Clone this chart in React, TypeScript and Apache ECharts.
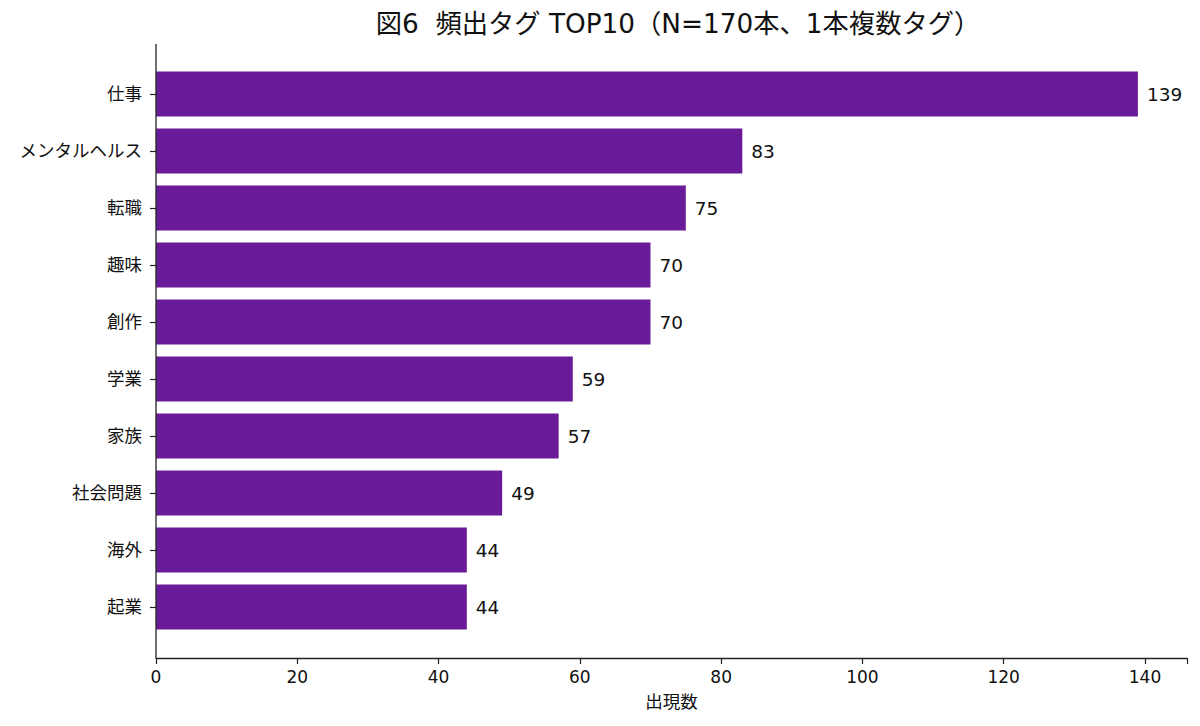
import React, { useEffect, useRef } from "react";
import * as echarts from "echarts";

const categories = ["仕事", "メンタルヘルス", "転職", "趣味", "創作", "学業", "家族", "社会問題", "海外", "起業"];
const counts = [139, 83, 75, 70, 70, 59, 57, 49, 44, 44];
const xTicks = [0, 20, 40, 60, 80, 100, 120, 140];
const titleText = "図6  頻出タグ TOP10（N=170本、1本複数タグ）";
const xName = "出現数";

const FONT = "'DejaVu Sans', 'Noto Sans CJK JP', sans-serif";

export default function App() {
  const ref = useRef<HTMLDivElement>(null);
  useEffect(() => {
    if (!ref.current) return;
    const chart = echarts.init(ref.current, null, { renderer: "svg" });
    const xMax = Math.max(...counts) * 1.05;
    chart.setOption({
      animation: false,
      backgroundColor: "#ffffff",
      textStyle: { fontFamily: FONT },
      title: {
        text: titleText,
        left: 673,
        textAlign: "center",
        top: 6,
        textStyle: { fontFamily: FONT, fontSize: 26.3, fontWeight: "normal", color: "#111" },
      },
      grid: { left: 156, right: 13, top: 65.5, bottom: 90.5, containLabel: false },
      xAxis: {
        type: "value",
        min: 0,
        max: xMax,
        interval: 20,
        offset: 22.5,
        name: xName,
        nameLocation: "middle",
        nameGap: 35,
        nameTextStyle: { fontFamily: FONT, fontSize: 17.5, color: "#111" },
        axisLine: { show: true, lineStyle: { color: "#222", width: 1.3 } },
        axisTick: { show: true, length: 6, lineStyle: { color: "#222", width: 1.2 } },
        axisLabel: {
          margin: 10,
          fontFamily: FONT,
          fontSize: 17,
          color: "#111",
          formatter: (v: number) => (xTicks.includes(v) ? String(v) : ""),
        },
        splitLine: { show: false },
      },
      yAxis: {
        type: "category",
        data: categories,
        inverse: true,
        axisLine: { show: false },
        axisTick: { show: true, alignWithLabel: true, length: 6, lineStyle: { color: "#222", width: 1.2 } },
        axisLabel: { margin: 14, fontFamily: FONT, fontSize: 17.5, color: "#111" },
        splitLine: { show: false },
      },
      graphic: [
        {
          type: "line",
          shape: { x1: 156, y1: 44, x2: 156, y2: 658 },
          style: { stroke: "#222", lineWidth: 1.3 },
          z: 10,
        },
      ],
      series: [
        {
          type: "bar",
          data: counts,
          barWidth: "79%",
          itemStyle: { color: "#6A1B9A" },
          label: {
            show: true,
            position: "right",
            distance: 9,
            fontFamily: FONT,
            fontSize: 18.5,
            color: "#111",
          },
        },
      ],
    });
    return () => chart.dispose();
  }, []);
  return <div ref={ref} style={{ width: 1200, height: 726, margin: -8 }} />;
}
